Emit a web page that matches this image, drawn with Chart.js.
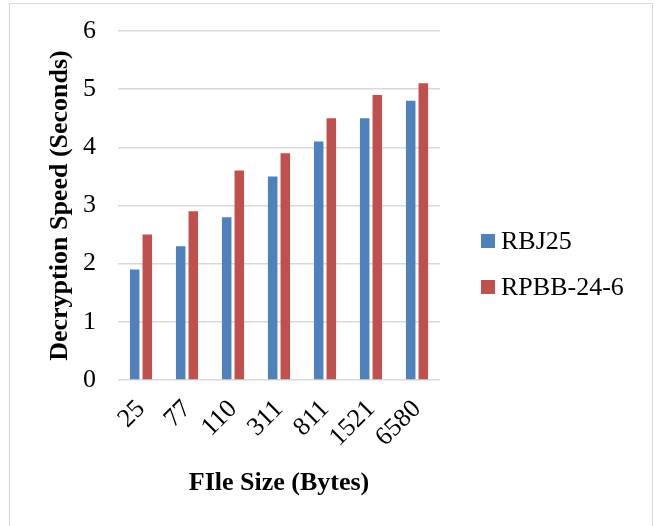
<!DOCTYPE html>
<html>
<head>
<meta charset="utf-8">
<script src="https://cdn.jsdelivr.net/npm/chart.js@4"></script>
<style>
  html, body { margin: 0; padding: 0; background: #fff; }
  #wrap { position: relative; width: 655px; height: 526px; }
  #frame { position: absolute; left: 9px; top: 3px; width: 644px; height: 530px; border: 1px solid #d9d9d9; box-sizing: border-box; pointer-events: none; }
  canvas { position: absolute; left: 0; top: 0; }
</style>
</head>
<body>
<div id="wrap">
  <canvas id="chart" width="655" height="526"></canvas>
  <div id="frame"></div>
</div>
<script>
// File sizes tested (bytes) and decryption times (seconds)
const categories = ['25', '77', '110', '311', '811', '1521', '6580'];
const rbj25 = [1.9, 2.3, 2.8, 3.5, 4.1, 4.5, 4.8];
const rpbb = [2.5, 2.9, 3.6, 3.9, 4.5, 4.9, 5.1];
const seriesNames = ['RBJ25', 'RPBB-24-6'];
const yTicks = [0, 1, 2, 3, 4, 5, 6];

const BLUE = '#4F81BD';
const RED = '#C0504D';
const SERIF = '"Liberation Serif", "Times New Roman", serif';

// Legend drawn to the right of the plot, centred on the whole figure
const sideLegend = {
  id: 'sideLegend',
  afterDraw(chart) {
    const ctx = chart.ctx;
    const items = chart.data.datasets;
    const x = 481, box = 14, gap = 46;
    const y0 = 241;
    ctx.save();
    ctx.font = '26px ' + SERIF;
    ctx.textBaseline = 'middle';
    ctx.textAlign = 'left';
    items.forEach((ds, i) => {
      const cy = y0 + i * gap;
      ctx.fillStyle = ds.backgroundColor;
      ctx.fillRect(x, cy - box / 2, box, box);
      ctx.fillStyle = '#000';
      ctx.fillText(ds.label, x + box + 6, cy + 1);
    });
    ctx.restore();
  }
};

new Chart(document.getElementById('chart'), {
  type: 'bar',
  data: {
    labels: categories,
    datasets: [
      { label: seriesNames[0], data: rbj25, backgroundColor: BLUE },
      { label: seriesNames[1], data: rpbb, backgroundColor: RED }
    ]
  },
  options: {
    responsive: false,
    animation: false,
    devicePixelRatio: 1,
    layout: { padding: { left: 0, top: 31, right: 215, bottom: 0 } },
    datasets: {
      bar: { categoryPercentage: 0.548, barPercentage: 0.755 }
    },
    plugins: {
      legend: { display: false },
      tooltip: { enabled: false }
    },
    scales: {
      x: {
        grid: { display: false, drawTicks: false },
        border: { display: false },
        ticks: {
          color: '#000',
          font: { family: SERIF, size: 26 },
          autoSkip: false,
          minRotation: 45,
          maxRotation: 45,
          padding: 14
        },
        title: {
          display: true,
          text: 'FIle Size (Bytes)',
          color: '#000',
          font: { family: SERIF, size: 26, weight: 'bold' },
          padding: { top: 0, bottom: 27 }
        },
        afterFit(scale) { scale.height = 146; }
      },
      y: {
        min: 0,
        max: 6,
        afterBuildTicks(scale) { scale.ticks = yTicks.map(v => ({ value: v })); },
        grid: { color: '#d9d9d9', lineWidth: 1.5, drawTicks: false },
        border: { display: false },
        ticks: {
          color: '#000',
          font: { family: SERIF, size: 26 },
          padding: 22
        },
        title: {
          display: true,
          text: 'Decryption Speed (Seconds)',
          color: '#000',
          font: { family: SERIF, size: 26, weight: 'bold' },
          padding: { top: 45, bottom: 0 }
        },
        afterFit(scale) {
          scale.width = 118;
          scale.paddingTop = 16;
          scale.paddingBottom = 16;
        }
      }
    }
  },
  plugins: [sideLegend]
});
</script>
</body>
</html>
